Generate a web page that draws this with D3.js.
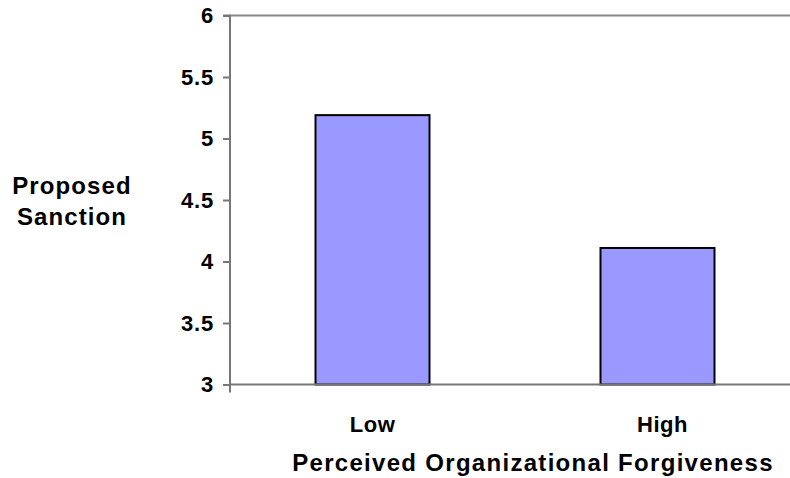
<!DOCTYPE html>
<html><head><meta charset="utf-8">
<script src="https://cdn.jsdelivr.net/npm/d3@7"></script>
<style>body{margin:0;background:#fff}svg{display:block;font-family:"Liberation Sans",Arial,sans-serif;font-weight:bold}</style>
</head><body>
<svg id="c" width="790" height="478"></svg>
<script>
const categories = ["Low", "High"];
const values = [5.19, 4.11];
const yTicks = [3, 3.5, 4, 4.5, 5, 5.5, 6];
const yTickLabels = ["3", "3.5", "4", "4.5", "5", "5.5", "6"];
const xTitle = "Perceived Organizational Forgiveness";
const yTitleLines = ["Proposed", "Sanction"];

(function () {
const svg = d3.select("#c");
const pLeft = 230, pRight = 800, pTop = 15.5, pBottom = 384.5;
const x = d3.scaleBand().domain(categories).range([pLeft, pRight]).paddingInner(0.6).paddingOuter(0.3);
const y = d3.scaleLinear().domain([3, 6]).range([pBottom, pTop]);

svg.append("line").attr("x1", pLeft).attr("x2", 790).attr("y1", pTop).attr("y2", pTop)
  .attr("stroke", "#888").attr("stroke-width", 2);

svg.selectAll("rect.bar").data(categories).enter().append("rect")
  .attr("x", d => x(d)).attr("width", x.bandwidth())
  .attr("y", (d, i) => y(values[i])).attr("height", (d, i) => y(3) - y(values[i]))
  .attr("fill", "#9999ff").attr("stroke", "#000").attr("stroke-width", 2);

const yAxis = d3.axisLeft(y).tickValues(yTicks).tickFormat((d, i) => yTickLabels[i]).tickSize(7).tickPadding(9);
const gy = svg.append("g").attr("transform", `translate(${pLeft},0)`).call(yAxis);
gy.select(".domain").attr("stroke", "#777").attr("stroke-width", 2).attr("d", `M-7,${pTop}H0V${pBottom + 8}`);
gy.selectAll(".tick line").attr("stroke", "#777").attr("stroke-width", 2);
gy.selectAll(".tick text").attr("font-size", 22).attr("font-weight", "bold").attr("fill", "#000")
  .attr("letter-spacing", 0.8).attr("font-family", "'Liberation Sans', Arial, sans-serif");

const xAxis = d3.axisBottom(x).tickSize(0).tickPadding(32);
const gx = svg.append("g").attr("transform", `translate(0,${pBottom})`).call(xAxis);
gx.select(".domain").attr("stroke", "#777").attr("stroke-width", 2).attr("d", `M${pLeft},0H790`);
gx.selectAll(".tick text").attr("font-size", 22).attr("font-weight", "bold").attr("fill", "#000")
  .attr("letter-spacing", 0.5).attr("font-family", "'Liberation Sans', Arial, sans-serif");
gx.selectAll(".tick").filter(d => d === "High").select("text").attr("dx", 5);

svg.append("text").attr("x", 533).attr("y", 471).attr("text-anchor", "middle")
  .attr("font-size", 24).attr("letter-spacing", 1.3).attr("fill", "#000").text(xTitle);
const yt = svg.append("text").attr("x", 72).attr("text-anchor", "middle").attr("font-size", 24)
  .attr("letter-spacing", 1.1).attr("fill", "#000");
yTitleLines.forEach((t, i) => yt.append("tspan").attr("x", 72).attr("y", 194 + i * 31).text(t));
})();
</script>
</body></html>
